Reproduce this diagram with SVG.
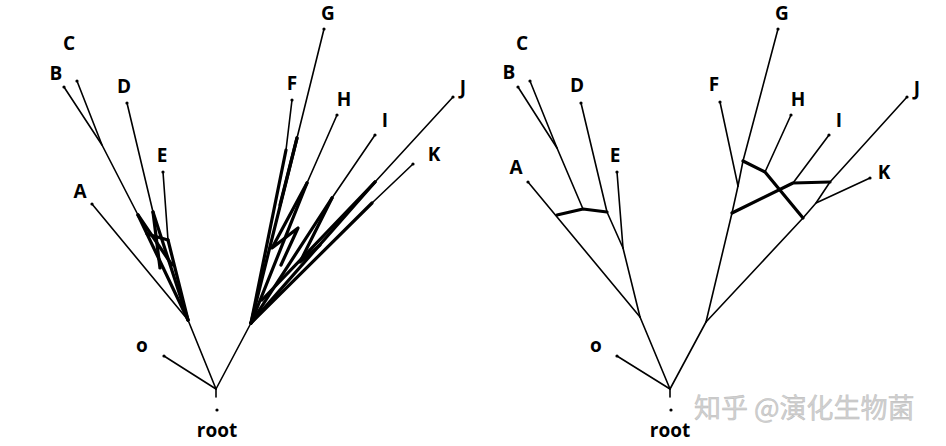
<svg xmlns="http://www.w3.org/2000/svg" width="946" height="446" viewBox="0 0 946 446">
<style>
.t{fill:none;stroke:#000;stroke-width:1.6;stroke-linecap:round;stroke-linejoin:round}
.k{fill:none;stroke:#000;stroke-width:3.2;stroke-linecap:round;stroke-linejoin:round}
.lb{font-family:"Open Sans","DejaVu Sans",sans-serif;font-weight:700;font-size:19px;fill:#000;text-anchor:middle}
.wm{font-family:"Noto Sans CJK SC","Noto Sans",sans-serif;font-size:27px;fill:#d0d0d0;stroke:#b8b8b8;stroke-width:0.4}
circle{fill:#000}
</style>
<rect width="946" height="446" fill="#fff"/>
<g id="connectors-left">
<polyline class="t" points="216,389 216,397"/>
<polyline class="t" points="164,356 216,389"/>
<polyline class="t" points="216,389 188,320"/>
<polyline class="t" points="216,389 251,323"/>
<polyline class="t" points="92,204 188,320"/>
<polyline class="t" points="64,87 102,145"/>
<polyline class="t" points="77,81 102,145 138,215"/>
<polyline class="t" points="127,103 153,212"/>
<polyline class="t" points="163,172 168,240"/>
<polyline class="k" points="138,215 188,320"/>
<polyline class="k" points="153,212 188,320"/>
<polyline class="k" points="168,240 188,320"/>
<polyline class="k" points="138,215 172,265"/>
<polyline class="k" points="153,212 160,268"/>
<polyline class="k" points="147,234 168,240"/>
<polyline class="t" points="324,29 297,138"/>
<polyline class="t" points="292,100 286,150"/>
<polyline class="t" points="337,115 307,183"/>
<polyline class="t" points="375,135 332,198"/>
<polyline class="t" points="453,97 375,182"/>
<polyline class="t" points="413,164 372,203"/>
<polyline class="k" points="297,138 251,323"/>
<polyline class="k" points="286,150 251,323"/>
<polyline class="k" points="307,183 251,323"/>
<polyline class="k" points="332,198 251,323"/>
<polyline class="k" points="375,182 251,323"/>
<polyline class="k" points="372,203 251,323"/>
<polyline class="k" points="297,138 280,205"/>
<polyline class="k" points="307,183 272,248 298,228 281,265"/>
<polyline class="k" points="332,198 300,262 320,245"/>
<polyline class="k" points="375,182 262,300"/>
</g>
<g id="connectors-right">
<polyline class="t" points="670,389 670,397"/>
<polyline class="t" points="617,356 670,389"/>
<polyline class="t" points="670,389 640,317"/>
<polyline class="t" points="670,389 706,322"/>
<polyline class="t" points="528,182 640,317"/>
<polyline class="t" points="640,317 623,248"/>
<polyline class="t" points="617,172 623,248"/>
<polyline class="t" points="581,103 607,212 623,248"/>
<polyline class="t" points="530,81 557,148 583,209"/>
<polyline class="t" points="518,87 557,148"/>
<polyline class="k" points="557,215 583,209 607,212"/>
<polyline class="t" points="706,322 732,213 738,186"/>
<polyline class="t" points="720,102 738,186"/>
<polyline class="t" points="778,29 743,161 738,186"/>
<polyline class="t" points="791,115 765,172"/>
<polyline class="t" points="829,135 793,183"/>
<polyline class="t" points="907,97 830,182 816,203 803,218 706,322"/>
<polyline class="t" points="870,178 816,203"/>
<polyline class="k" points="743,161 765,172 803,218"/>
<polyline class="k" points="732,213 793,183 830,182"/>
</g>
<g id="dots">
<circle cx="217" cy="410" r="1.6"/><circle cx="164" cy="356" r="1.6"/>
<circle cx="92" cy="204" r="1.6"/><circle cx="64" cy="87" r="1.6"/><circle cx="77" cy="81" r="1.6"/>
<circle cx="127" cy="103" r="1.6"/><circle cx="163" cy="172" r="1.6"/>
<circle cx="324" cy="29" r="1.6"/><circle cx="292" cy="100" r="1.6"/><circle cx="337" cy="115" r="1.6"/>
<circle cx="375" cy="135" r="1.6"/><circle cx="453" cy="97" r="1.6"/><circle cx="413" cy="164" r="1.6"/>
<circle cx="671" cy="410" r="1.6"/><circle cx="617" cy="356" r="1.6"/>
<circle cx="528" cy="182" r="1.6"/><circle cx="518" cy="87" r="1.6"/><circle cx="530" cy="81" r="1.6"/>
<circle cx="581" cy="103" r="1.6"/><circle cx="617" cy="172" r="1.6"/>
<circle cx="778" cy="29" r="1.6"/><circle cx="720" cy="102" r="1.6"/><circle cx="791" cy="115" r="1.6"/>
<circle cx="829" cy="135" r="1.6"/><circle cx="907" cy="97" r="1.6"/><circle cx="870" cy="178" r="1.6"/>
</g>
<g id="labels-left">
<text class="lb" x="69" y="50">C</text>
<text class="lb" x="56" y="80">B</text>
<text class="lb" x="124" y="93">D</text>
<text class="lb" x="162" y="162">E</text>
<text class="lb" x="80" y="198">A</text>
<text class="lb" x="142" y="352">o</text>
<text class="lb" x="217" y="437">root</text>
<text class="lb" x="328" y="20">G</text>
<text class="lb" x="292" y="90">F</text>
<text class="lb" x="344" y="106">H</text>
<text class="lb" x="385" y="127">I</text>
<text class="lb" x="463" y="94">J</text>
<text class="lb" x="434" y="161">K</text>
</g>
<g id="labels-right">
<text class="lb" x="522" y="50">C</text>
<text class="lb" x="509" y="79">B</text>
<text class="lb" x="577" y="92">D</text>
<text class="lb" x="615" y="162">E</text>
<text class="lb" x="516" y="174">A</text>
<text class="lb" x="596" y="352">o</text>
<text class="lb" x="670" y="437">root</text>
<text class="lb" x="782" y="20">G</text>
<text class="lb" x="714" y="91">F</text>
<text class="lb" x="798" y="106">H</text>
<text class="lb" x="839" y="127">I</text>
<text class="lb" x="917" y="95">J</text>
<text class="lb" x="884" y="179">K</text>
</g>
<text class="wm" x="694" y="418">知乎 @演化生物菌</text>
</svg>
